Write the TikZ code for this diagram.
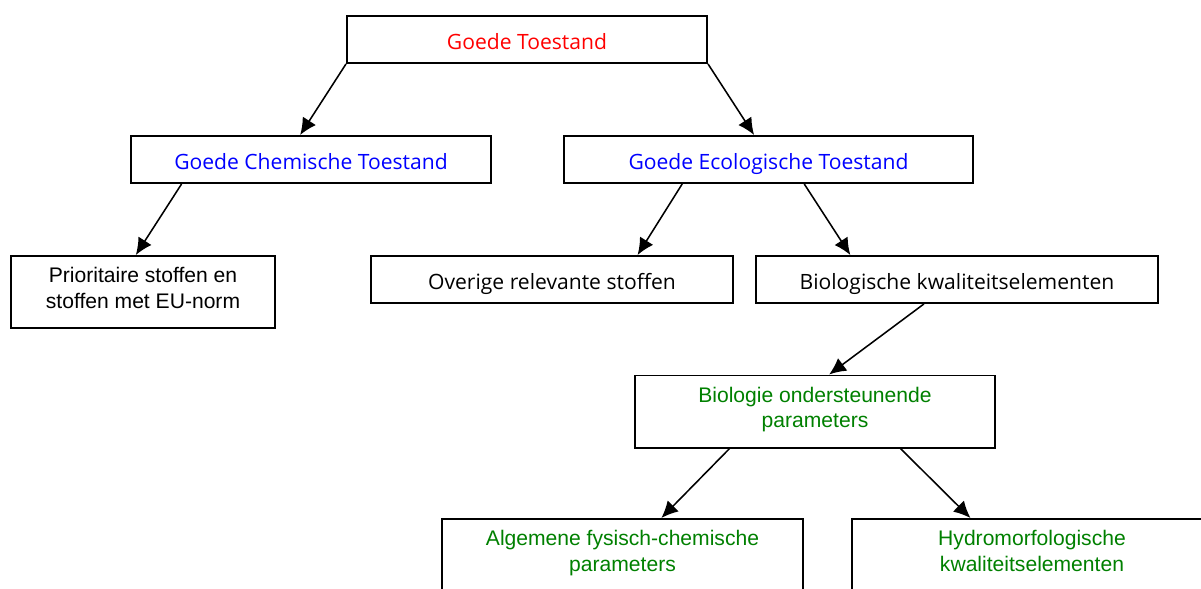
\documentclass[tikz,border=0pt]{standalone}
\usepackage{fontspec}
\setmainfont{Open Sans}
\newfontfamily\arialfont{Liberation Sans}
\usetikzlibrary{calc,arrows.meta}
\definecolor{staatgroen}{RGB}{0,128,0}
\newcommand{\laagsteun}{\rule[-6pt]{0pt}{6pt}}

\begin{document}
\begin{tikzpicture}[x=0.025cm,y=-0.025cm,>={Latex[length=4.2mm,width=3.9mm]},
        box/.style={draw,line width=1.4pt,inner sep=0pt,minimum height=1.175cm,
                text height=17pt,text depth=3pt,font=\fontsize{15}{18}\selectfont},
        tallbox/.style={draw,line width=1.4pt,inner sep=0pt,minimum height=1.8cm,align=center,
                font=\arialfont\fontsize{15}{18}\selectfont},
        pijl/.style={->,line width=1.1pt}]
                \useasboundingbox (0,0) rectangle (1201,588);
                \clip (0,0) rectangle (1201,588);

                \node[box,minimum width=9cm,text=red] (goed) at (527,39.5) {Goede Toestand};
                \node[box,minimum width=9cm,text=blue] (chem) at (311,159.5) {Goede Chemische Toestand};
                \node[box,minimum width=10.225cm,text=blue] (eco) at (768.5,159.5) {Goede Ecologische Toestand};
                \node[tallbox,minimum width=6.6cm] (prio) at (143,292) {Prioritaire stoffen en\\stoffen met EU-norm\laagsteun};
                \node[box,minimum width=9.05cm] (overig) at (552,279.5) {Overige relevante stoffen};
                \node[box,minimum width=10.05cm] (bio) at (957,279.5) {Biologische kwaliteitselementen};
                \node[tallbox,minimum width=9cm,text=staatgroen] (onder) at (815,411.5) {Biologie ondersteunende\\parameters\laagsteun};
                \node[tallbox,minimum width=9.025cm,text=staatgroen] (alg) at (622.5,555) {Algemene fysisch-chemische\\parameters\laagsteun};
                \node[tallbox,minimum width=9cm,text=staatgroen] (hydro) at (1032,555) {Hydromorfologische\\kwaliteitselementen\laagsteun};

                % bovenste niveau
                \coordinate (H) at (goed.south west);
                \coordinate (I) at ($(chem.north west)!.47!(chem.north east)$);
                \draw[pijl] (H) -- (I);

                \coordinate (H) at (goed.south east);
                \coordinate (I) at ($(eco.north west)!.465!(eco.north east)$);
                \draw[pijl] (H) -- (I);

                % chemisch
                \coordinate (H) at ($(chem.south west)!.1425!(chem.south east)$);
                \coordinate (I) at ($(prio.north west)!.473!(prio.north east)$);
                \draw[pijl] (H) -- (I);

                % ecologisch
                \coordinate (H) at ($(eco.south west)!.29!(eco.south east)$);
                \coordinate (I) at ($(overig.north west)!.735!(overig.north east)$);
                \draw[pijl] (H) -- (I);

                \coordinate (H) at ($(eco.south west)!.587!(eco.south east)$);
                \coordinate (I) at ($(bio.north west)!.236!(bio.north east)$);
                \draw[pijl] (H) -- (I);

                \coordinate (H) at ($(bio.south west)!.418!(bio.south east)$);
                \coordinate (I) at ($(onder.north west)!.539!(onder.north east)$);
                \draw[pijl] (H) -- (I);

                % ondersteunend
                \coordinate (H) at ($(onder.south west)!.264!(onder.south east)$);
                \coordinate (I) at ($(alg.north west)!.607!(alg.north east)$);
                \draw[pijl] (H) -- (I);

                \coordinate (H) at ($(onder.south west)!.736!(onder.south east)$);
                \coordinate (I) at ($(hydro.north west)!.33!(hydro.north east)$);
                \draw[pijl] (H) -- (I);
\end{tikzpicture}
\end{document}
